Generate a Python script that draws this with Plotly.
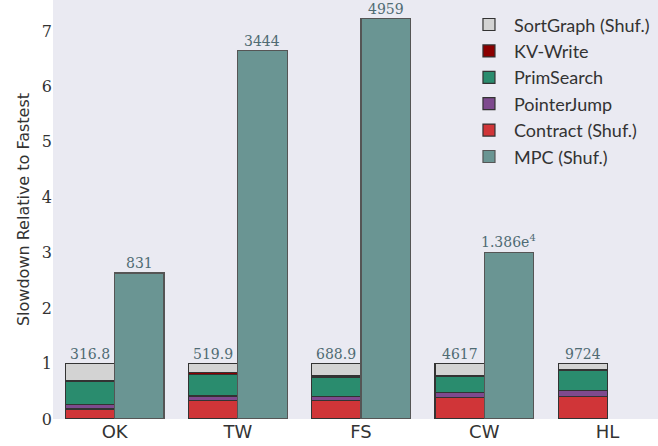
import plotly.graph_objects as go

categories = ["OK", "TW", "FS", "CW", "HL"]
contract = [0.18, 0.34, 0.33, 0.39, 0.41]
pointer_jump = [0.085, 0.075, 0.07, 0.09, 0.10]
prim_search = [0.405, 0.395, 0.345, 0.28, 0.36]
kv_write = [0.03, 0.025, 0.03, 0.02, 0.03]
sort_graph = [0.30, 0.165, 0.225, 0.22, 0.10]
left_labels = ["316.8", "519.9", "688.9", "4617", "9724"]
mpc_values = [2.635, 6.645, 7.22, 3.01]
mpc_labels = ["831", "3444", "4959", "1.386e<sup>4</sup>"]

n = len(categories)
xl = [i - 0.2 for i in range(n)]
xr = [i + 0.2 for i in range(len(mpc_values))]

fig = go.Figure()
stack = [
    ("Contract (Shuf.)", contract, "#d03538", 5),
    ("PointerJump", pointer_jump, "#7e4a8e", 4),
    ("PrimSearch", prim_search, "#2a8c6e", 3),
    ("KV-Write", kv_write, "#8b0000", 2),
    ("SortGraph (Shuf.)", sort_graph, "#d3d3d3", 1),
]
for name, vals, col, rank in stack:
    fig.add_trace(go.Bar(x=xl, y=vals, width=0.4, name=name, legendrank=rank,
                         marker=dict(color=col, line=dict(color="#333333", width=1.2))))
fig.add_trace(go.Bar(x=xr, y=mpc_values, width=0.4, name="MPC (Shuf.)", legendrank=6,
                     marker=dict(color="#6a9593", line=dict(color="#555555", width=1.2))))

totals = [sum(v) for v in zip(contract, pointer_jump, prim_search, kv_write, sort_graph)]
ann_font = dict(family="DejaVu Serif", size=14, color="#4f6b73")
for i in range(n):
    fig.add_annotation(x=xl[i], y=totals[i], text=left_labels[i], showarrow=False,
                       yanchor="bottom", yshift=0, font=ann_font)
for i in range(len(mpc_values)):
    fig.add_annotation(x=xr[i], y=mpc_values[i], text=mpc_labels[i], showarrow=False,
                       yanchor="bottom", yshift=0, font=ann_font)

fig.update_layout(
    width=658, height=446,
    margin=dict(l=53, r=0, t=0, b=27, pad=0),
    barmode="stack",
    plot_bgcolor="#eaeaf2", paper_bgcolor="white",
    showlegend=True,
    legend=dict(x=0.995, xanchor="right", y=0.985, yanchor="top", traceorder="normal",
                bgcolor="rgba(0,0,0,0)", font=dict(family="Lato", size=18, color="#333333"),
                itemwidth=40, tracegroupgap=0),
    xaxis=dict(range=[-0.5, 4.41], tickvals=list(range(n)), ticktext=categories,
               showgrid=False, zeroline=False, ticks="", automargin=False,
               tickfont=dict(family="DejaVu Sans", size=18, color="#333333")),
    yaxis=dict(range=[0, 7.56], tickvals=list(range(8)), showgrid=False, zeroline=False,
               ticks="", automargin=False,
               tickfont=dict(family="DejaVu Serif", size=16, color="#333333"),
               title=dict(text="Slowdown Relative to Fastest", standoff=8,
                          font=dict(family="DejaVu Sans", size=16, color="#333333"))),
)
fig.write_html("out.html", config={"displayModeBar": False},
               post_script="document.body.style.margin='0px';document.body.style.padding='0px';")
